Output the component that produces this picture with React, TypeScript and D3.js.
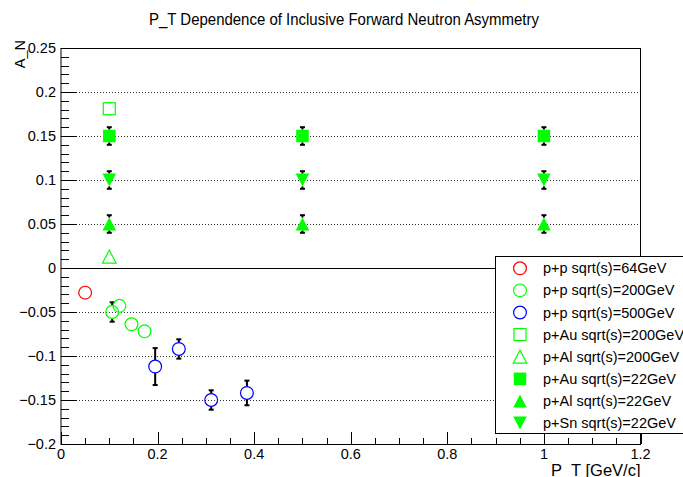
import React from "react";
import * as d3 from "d3";

const W = 683;
const H = 477;

const titleText = "P_T Dependence of Inclusive Forward Neutron Asymmetry";
const xTitle = "P_T [GeV/c]";
const yTitle = "A_N";

const xTickValues = [0, 0.2, 0.4, 0.6, 0.8, 1, 1.2];
const xTickLabels = ["0", "0.2", "0.4", "0.6", "0.8", "1", "1.2"];
const yTickValues = [-0.2, -0.15, -0.1, -0.05, 0, 0.05, 0.1, 0.15, 0.2, 0.25];
const yTickLabels = ["\u22120.2", "\u22120.15", "\u22120.1", "\u22120.05", "0", "0.05", "0.1", "0.15", "0.2", "0.25"];

type Pt = { x: number; y: number; e?: number };

const pp64: Pt[] = [{ x: 0.05, y: -0.028 }];
const pp200: Pt[] = [
  { x: 0.106, y: -0.05, e: 0.011 },
  { x: 0.121, y: -0.043 },
  { x: 0.146, y: -0.064 },
  { x: 0.173, y: -0.072 },
];
const pp500: Pt[] = [
  { x: 0.195, y: -0.112, e: 0.021 },
  { x: 0.244, y: -0.092, e: 0.011 },
  { x: 0.311, y: -0.15, e: 0.011 },
  { x: 0.385, y: -0.142, e: 0.014 },
];
const pAu200: Pt[] = [{ x: 0.1, y: 0.181 }];
const pAl200: Pt[] = [{ x: 0.1, y: 0.013 }];
const pAu22: Pt[] = [
  { x: 0.1, y: 0.15, e: 0.01 },
  { x: 0.5, y: 0.15, e: 0.01 },
  { x: 1.0, y: 0.15, e: 0.01 },
];
const pAl22: Pt[] = [
  { x: 0.1, y: 0.05, e: 0.01 },
  { x: 0.5, y: 0.05, e: 0.01 },
  { x: 1.0, y: 0.05, e: 0.01 },
];
const pSn22: Pt[] = [
  { x: 0.1, y: 0.1, e: 0.01 },
  { x: 0.5, y: 0.1, e: 0.01 },
  { x: 1.0, y: 0.1, e: 0.01 },
];

type Shape = "circle" | "square" | "up" | "down";
const seriesNames = [
  "p+p sqrt(s)=64GeV",
  "p+p sqrt(s)=200GeV",
  "p+p sqrt(s)=500GeV",
  "p+Au sqrt(s)=200GeV",
  "p+Al sqrt(s)=200GeV",
  "p+Au sqrt(s)=22GeV",
  "p+Al sqrt(s)=22GeV",
  "p+Sn sqrt(s)=22GeV",
];
const seriesData = [pp64, pp200, pp500, pAu200, pAl200, pAu22, pAl22, pSn22];
const seriesColors = ["#ff0000", "#00ff00", "#0000ff", "#00ff00", "#00ff00", "#00ff00", "#00ff00", "#00ff00"];
const seriesShapes: Shape[] = ["circle", "circle", "circle", "square", "up", "square", "up", "down"];
const seriesFilled = [false, false, false, false, false, true, true, true];

const FONT = "'Liberation Sans', Arial, Helvetica, sans-serif";

function Marker({ cx, cy, shape, color, filled }: { cx: number; cy: number; shape: Shape; color: string; filled: boolean }) {
  const fill = filled ? color : "none";
  const sw = filled ? 0 : 1.2;
  if (shape === "circle") {
    return <circle cx={cx} cy={cy} r={6.4} fill={fill} stroke={color} strokeWidth={sw} />;
  }
  if (shape === "square") {
    const s = filled ? 12.5 : 12;
    return <rect x={cx - s / 2} y={cy - s / 2} width={s} height={s} fill={fill} stroke={color} strokeWidth={filled ? 0 : 1.2} />;
  }
  const h = 6.5;
  const w = 6.8;
  const d =
    shape === "up"
      ? `M${cx},${cy - h}L${cx + w},${cy + h}L${cx - w},${cy + h}Z`
      : `M${cx},${cy + h}L${cx + w},${cy - h}L${cx - w},${cy - h}Z`;
  return <path d={d} fill={fill} stroke={color} strokeWidth={sw} strokeLinejoin="miter" />;
}

export default function App() {
  const left = 61;
  const right = 640.5;
  const top = 48;
  const bottom = 444;
  const x = d3.scaleLinear().domain([0, 1.2]).range([left, right]);
  const y = d3.scaleLinear().domain([-0.2, 0.25]).range([bottom, top]);

  const yMinor = d3.range(-0.2, 0.2501, 0.01);
  const xMinor = d3.range(0, 1.2001, 0.05);
  const gridVals = yTickValues.filter((v) => v > -0.2 && v < 0.25 && Math.abs(v) > 1e-9);

  const markerR = 6.4;

  const legendX = 495.5;
  const legendTop = 256.5;
  const legendBottom = 433.5;
  const rowH = 22.1;

  return (
    <svg
      width={W}
      height={H}
      style={{ position: "absolute", left: 0, top: 0, display: "block", background: "#fff" }}
      fontFamily={FONT}
    >
      <rect x={0} y={0} width={W} height={H} fill="#fff" />
      <text x={344} y={25} textAnchor="middle" fontSize={17} fill="#000" textLength={390} lengthAdjust="spacingAndGlyphs">
        {titleText}
      </text>

      {/* grid */}
      {gridVals.map((v, i) => (
        <line
          key={"g" + i}
          x1={left}
          x2={right}
          y1={Math.round(y(v)) + 0.5}
          y2={Math.round(y(v)) + 0.5}
          stroke="#333"
          strokeWidth={1}
          strokeDasharray="1 2"
        />
      ))}
      <line x1={left} x2={right} y1={Math.round(y(0)) + 0.5} y2={Math.round(y(0)) + 0.5} stroke="#000" strokeWidth={1} />

      {/* frame */}
      <rect x={left} y={top + 0.5} width={right - left} height={bottom - top} fill="none" stroke="#000" strokeWidth={1} />

      {/* y ticks */}
      {yMinor.map((v, i) => (
        <line key={"ym" + i} x1={left} x2={left + 8} y1={Math.round(y(v)) + 0.5} y2={Math.round(y(v)) + 0.5} stroke="#000" />
      ))}
      {yTickValues.map((v, i) => (
        <line key={"yM" + i} x1={left} x2={left + 16} y1={Math.round(y(v)) + 0.5} y2={Math.round(y(v)) + 0.5} stroke="#000" />
      ))}
      {yTickValues.map((v, i) => (
        <text key={"yl" + i} x={56} y={y(v) + 5} textAnchor="end" fontSize={14.5} fill="#000">
          {yTickLabels[i]}
        </text>
      ))}

      {/* x ticks */}
      {xMinor.map((v, i) => (
        <line key={"xm" + i} x1={Math.round(x(v)) + 0.5} x2={Math.round(x(v)) + 0.5} y1={bottom} y2={bottom - 6} stroke="#000" />
      ))}
      {xTickValues.map((v, i) => (
        <line key={"xM" + i} x1={Math.round(x(v)) + 0.5} x2={Math.round(x(v)) + 0.5} y1={bottom} y2={bottom - 12} stroke="#000" />
      ))}
      {xTickValues.map((v, i) => (
        <text key={"xl" + i} x={x(v)} y={458.5} textAnchor="middle" fontSize={14.5} fill="#000">
          {xTickLabels[i]}
        </text>
      ))}

      {/* axis titles */}
      <text x={right} y={475.5} textAnchor="end" fontSize={16.5} fill="#000">
        {xTitle}
      </text>
      <text transform={`translate(25,${top - 8}) rotate(-90)`} textAnchor="end" fontSize={14.5} fill="#000">
        {yTitle}
      </text>

      {/* error bars */}
      {seriesData.map((data, si) =>
        data
          .filter((p) => p.e)
          .map((p, i) => {
            const cx = x(p.x);
            const cy = y(p.y);
            const yt = y(p.y + (p.e as number));
            const yb = y(p.y - (p.e as number));
            return (
              <g key={`e${si}-${i}`} stroke="#000" strokeWidth={2}>
                <line x1={cx} x2={cx} y1={yt} y2={cy - markerR} />
                <line x1={cx} x2={cx} y1={cy + markerR} y2={yb} />
                <line x1={cx - 2.5} x2={cx + 2.5} y1={yt} y2={yt} />
                <line x1={cx - 2.5} x2={cx + 2.5} y1={yb} y2={yb} />
              </g>
            );
          })
      )}

      {/* markers */}
      {seriesData.map((data, si) =>
        data.map((p, i) => (
          <Marker
            key={`m${si}-${i}`}
            cx={x(p.x)}
            cy={y(p.y)}
            shape={seriesShapes[si]}
            color={seriesColors[si]}
            filled={seriesFilled[si]}
          />
        ))
      )}

      {/* legend */}
      <rect x={legendX} y={legendTop} width={W + 20 - legendX} height={legendBottom - legendTop} fill="#fff" stroke="#000" strokeWidth={1} />
      {seriesNames.map((name, i) => {
        const cy = 268.3 + i * rowH;
        return (
          <g key={"lg" + i}>
            <Marker cx={520} cy={cy} shape={seriesShapes[i]} color={seriesColors[i]} filled={seriesFilled[i]} />
            <text x={543} y={cy + 5} fontSize={14.5} fill="#000">
              {name}
            </text>
          </g>
        );
      })}
    </svg>
  );
}
